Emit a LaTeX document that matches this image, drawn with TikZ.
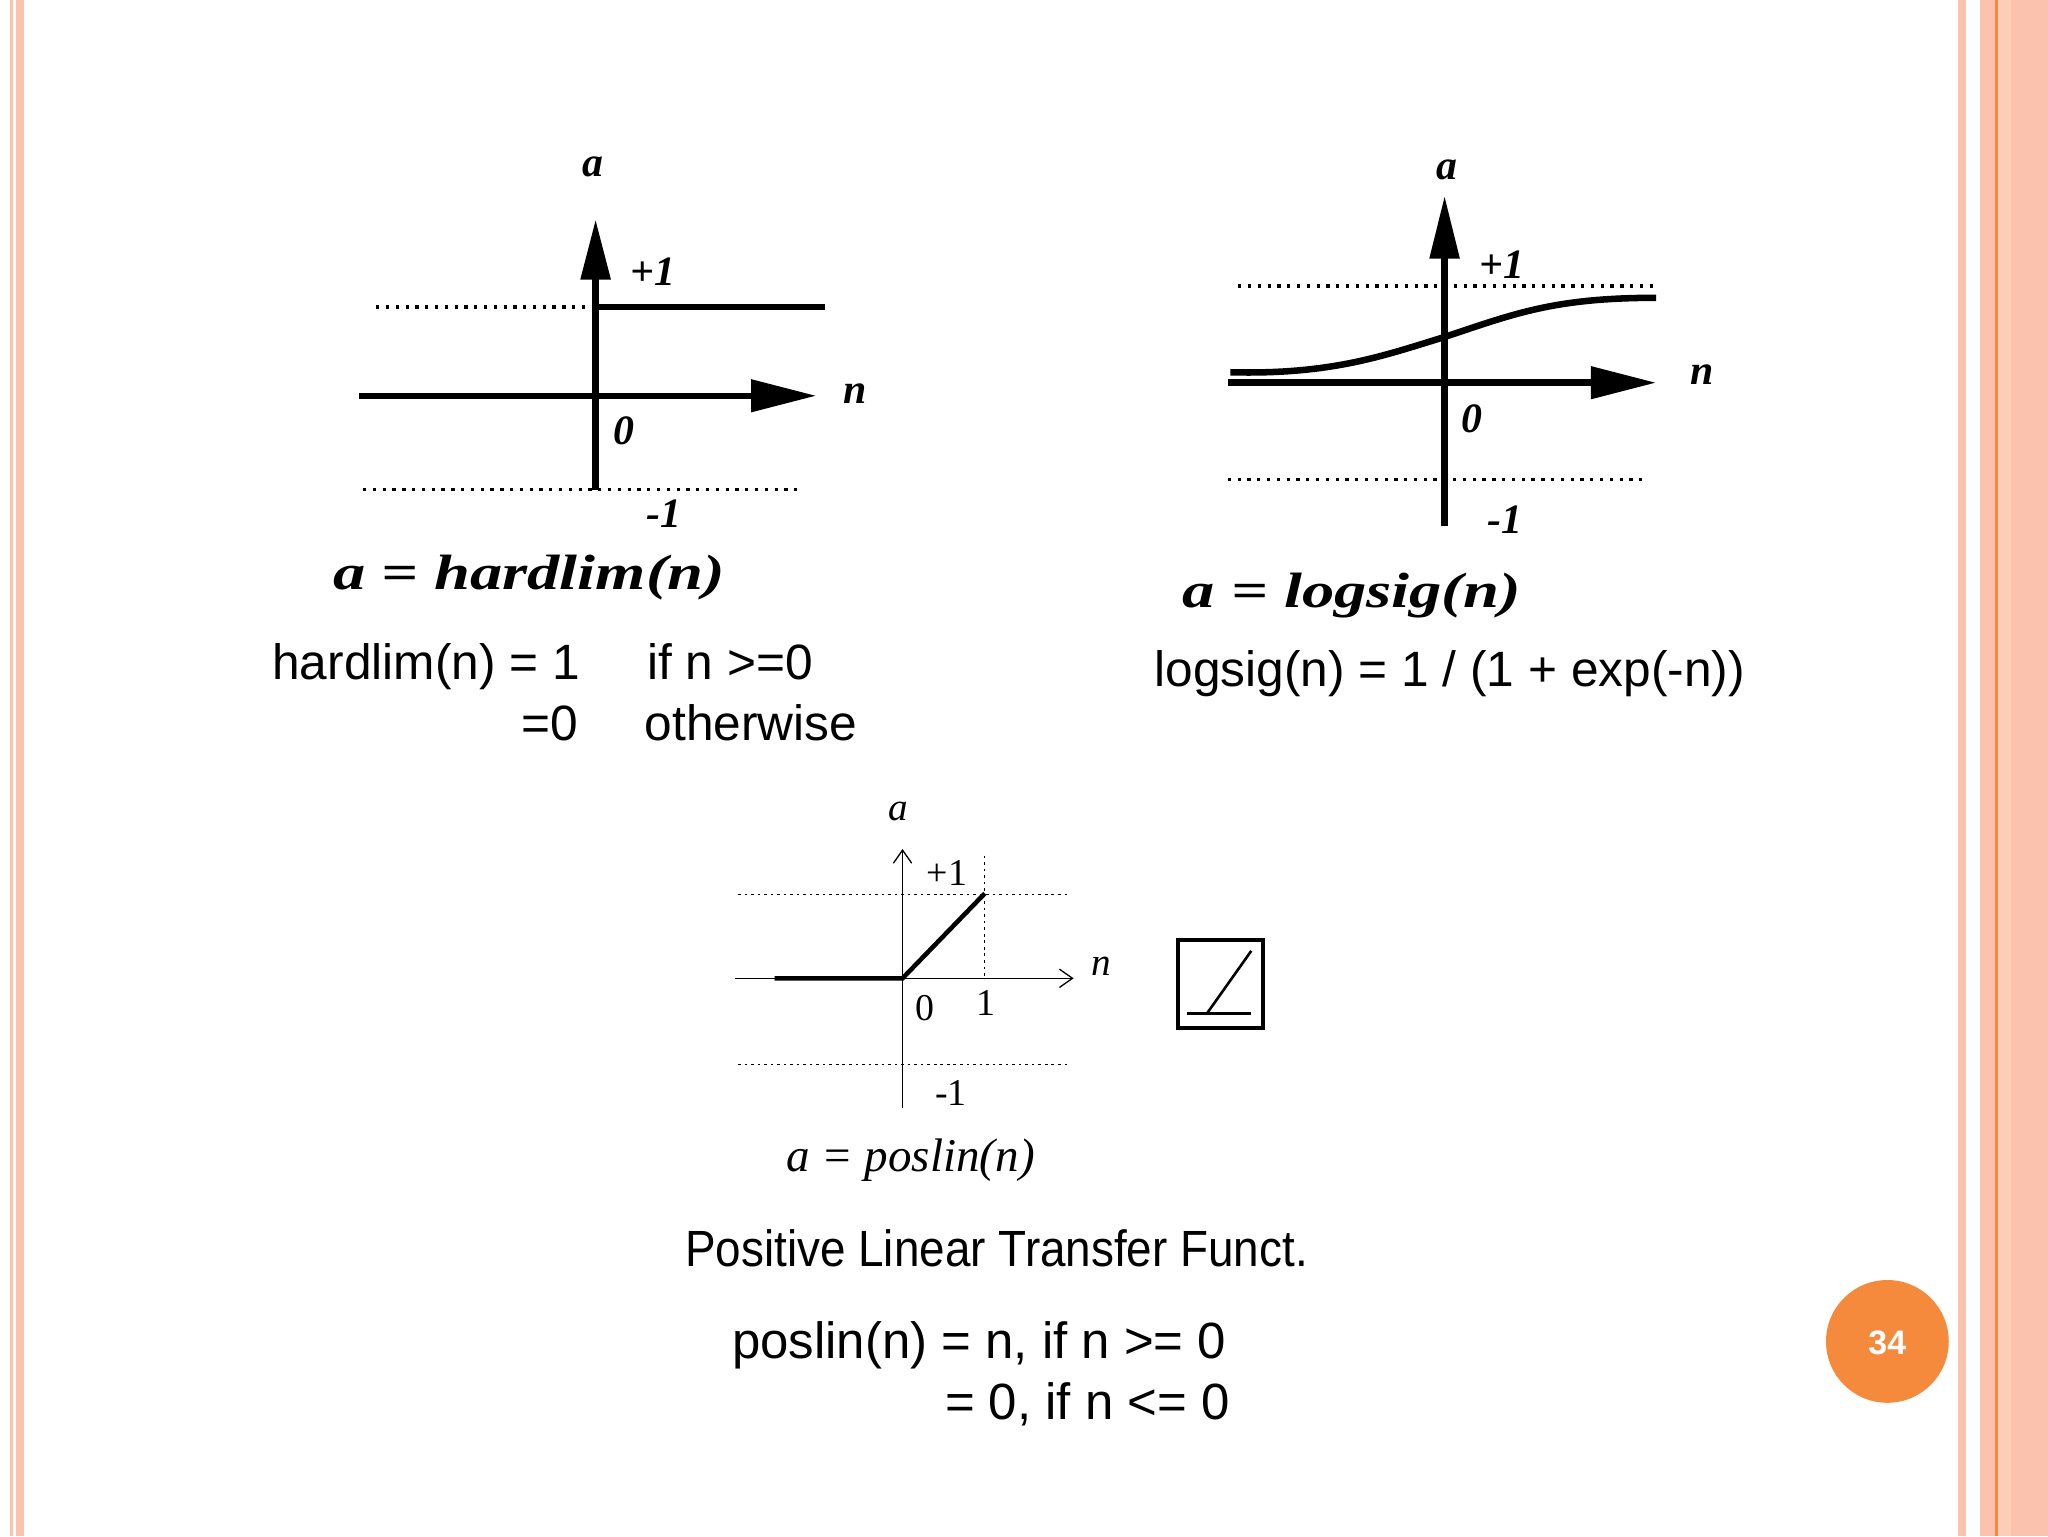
\documentclass[tikz,border=0pt]{standalone}
\usepackage{fontspec}
\setmainfont{Liberation Sans}
\newfontfamily\hand{Liberation Serif}
\usetikzlibrary{arrows.meta}
\definecolor{pk}{HTML}{FBC3AE}
\definecolor{pkl}{HTML}{FCCDB9}
\definecolor{org}{HTML}{F58A3C}
\begin{document}
\begin{tikzpicture}[x=1pt,y=-1pt,
  lab/.style={font=\hand\bfseries\itshape\fontsize{32}{32}\selectfont},
  flab/.style={font=\hand\bfseries\itshape\fontsize{38}{38}\selectfont,xscale=1.3},
  tlab/.style={font=\hand\itshape\fontsize{30}{30}\selectfont},
  rlab/.style={font=\hand\fontsize{29}{29}\selectfont},
  txt/.style={font=\fontsize{38}{38}\selectfont},
  thick3/.style={line width=5pt},
  dot/.style={line width=2.5pt,dash pattern=on 2.5pt off 5pt},
  fdot/.style={line width=1pt,dash pattern=on 2pt off 3pt}]
\useasboundingbox (0,0) rectangle (1568,1176);
\fill[white] (0,0) rectangle (1568,1176);
% borders
\fill[pk] (7.7,0) rectangle (10,1176);
\fill[pk] (12,0) rectangle (18,1176);
\fill[pk] (1499,0) rectangle (1505,1176);
\fill[pk] (1516,0) rectangle (1568,1176);
\fill[pkl] (1530,0) rectangle (1540,1176);
\fill[org] (1527.5,0) rectangle (1530,1176);
% ---------- hardlim
\coordinate (h0) at (456,303);
\draw[dot] (288,235) -- (456,235);
\draw[dot] (278,375) -- (615,375);
\draw[thick3] (275,303) -- (h0);
\draw[thick3,-{Triangle[length=50pt,width=24pt]}] (h0) -- (625,303);
\draw[thick3,-{Triangle[length=46pt,width=22pt]}] (456,375) -- (456,168);
\draw[thick3] (h0) -- (456,235) -- (632,235);
\node[lab] (ha) at (454,128) {a};
\node[lab] (hp) at (500,208) {+1};
\node[lab] (hn) at (655,301) {n};
\node[lab] (hz) at (478,330) {0};
\node[lab] (hm) at (508,393) {-1};
\node[flab] (hf) at (405,442) {a = hardlim(n)};
\node[txt,anchor=base west] (t1) at (205,520) {hardlim(n) = 1};
\node[txt,anchor=base west] (t2) at (492,520) {if n >=0};
\node[txt,anchor=base east] (t3) at (446,567) {=0};
\node[txt,anchor=base west] (t4) at (490,567) {otherwise};
% ---------- logsig
\draw[dot] (948,219) -- (1270,219);
\draw[dot] (940,367) -- (1262,367);
\draw[thick3,-{Triangle[length=50pt,width=24pt]}] (940,293) -- (1268,293);
\draw[thick3,-{Triangle[length=48pt,width=22pt]}] (1106,403) -- (1106,150);
\draw[thick3] (942,285) .. controls (1020,287) and (1060,272) .. (1106,258)
  .. controls (1160,240) and (1190,228) .. (1268,228);
\node[lab] (la) at (1108,130) {a};
\node[lab] (lp) at (1150,203) {+1};
\node[lab] (ln) at (1303,287) {n};
\node[lab] (lz) at (1127,321) {0};
\node[lab] (lm) at (1152,398) {-1};
\node[flab] (lf) at (1035,456) {a = logsig(n)};
\node[txt] (lt) at (1110,516) {logsig(n) = 1 / (1 + exp(-n))};
% ---------- poslin
\draw[fdot] (565,685) -- (818,685);
\draw[fdot] (565,815) -- (818,815);
\draw[fdot] (754,655) -- (754,750);
\draw[line width=1pt,-{Straight Barb[length=10pt,width=14pt]}] (563,749) -- (822,749);
\draw[line width=1pt,-{Straight Barb[length=10pt,width=14pt]}] (691,848) -- (691,650);
\draw[line width=3.5pt] (593,749) -- (691,749) -- (754,684);
\node[tlab] (pa) at (688,621) {a};
\node[rlab] (pp) at (725,668) {+1};
\node[tlab] (pn) at (843,740) {n};
\node[rlab] (pz) at (708,772) {0};
\node[rlab] (p1) at (755,768) {1};
\node[rlab] (pm) at (728,837) {-1};
\node[tlab,font=\hand\itshape\fontsize{36}{36}\selectfont] (pf) at (697,888) {a = poslin(n)};
\draw[line width=3pt] (902,720) rectangle (967,787);
\draw[line width=2pt] (909,776) -- (958,776);
\draw[line width=2pt] (924,776) -- (958,728);
\node[font=\fontsize{39}{39}\selectfont,xscale=0.9] (pt) at (763,956) {Positive Linear Transfer Funct.};
\node[font=\fontsize{39}{39}\selectfont,anchor=base west] (e1) at (557,1040) {poslin(n) = n, if n >= 0};
\node[font=\fontsize{39}{39}\selectfont,anchor=base west] (e2) at (720,1087) {= 0, if n <= 0};
% page number
\fill[org] (1445,1027) circle (47);
\node[font=\bfseries\fontsize{26}{26}\selectfont,text=white] (pg) at (1445,1028) {34};
\end{tikzpicture}
\end{document}
